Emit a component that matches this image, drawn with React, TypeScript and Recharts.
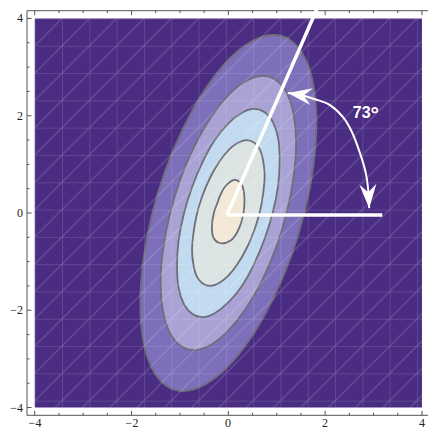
import React from "react";
import { ComposedChart, Scatter, XAxis, YAxis, ReferenceLine } from "recharts";

type Pt = { x: number; y: number };

// region covered by the density plot
const PLOT_REGION: [number, number][] = [[-4, -4], [4, -4], [4, 4], [-4, 4]];

// contour outlines, outer to inner
const CONTOUR_1: [number, number][] = [
  [1.82, 1.87], [1.76, 2.62], [1.58, 3.19], [1.29, 3.55], [0.91, 3.66], [0.47, 3.52],
  [0.0, 3.15], [-0.47, 2.56], [-0.91, 1.79], [-1.29, 0.91], [-1.58, -0.04], [-1.76, -0.99],
  [-1.82, -1.87], [-1.76, -2.62], [-1.58, -3.19], [-1.29, -3.55], [-0.91, -3.66], [-0.47, -3.52],
  [0.0, -3.15], [0.47, -2.56], [0.91, -1.79], [1.29, -0.91], [1.58, 0.04], [1.76, 0.99],
];
const CONTOUR_2: [number, number][] = [
  [1.40, 1.44], [1.35, 2.02], [1.21, 2.46], [0.99, 2.73], [0.70, 2.82], [0.36, 2.71],
  [0.0, 2.42], [-0.36, 1.97], [-0.70, 1.38], [-0.99, 0.70], [-1.21, -0.03], [-1.35, -0.76],
  [-1.40, -1.44], [-1.35, -2.02], [-1.21, -2.46], [-0.99, -2.73], [-0.70, -2.82], [-0.36, -2.71],
  [0.0, -2.42], [0.36, -1.97], [0.70, -1.38], [0.99, -0.70], [1.21, 0.03], [1.35, 0.76],
];
const CONTOUR_3: [number, number][] = [
  [1.06, 1.09], [1.03, 1.53], [0.92, 1.87], [0.75, 2.07], [0.53, 2.14], [0.28, 2.06],
  [0.0, 1.84], [-0.28, 1.50], [-0.53, 1.05], [-0.75, 0.53], [-0.92, -0.02], [-1.03, -0.58],
  [-1.06, -1.09], [-1.03, -1.53], [-0.92, -1.87], [-0.75, -2.07], [-0.53, -2.14], [-0.28, -2.06],
  [0.0, -1.84], [0.28, -1.50], [0.53, -1.05], [0.75, -0.53], [0.92, 0.02], [1.03, 0.58],
];
const CONTOUR_4: [number, number][] = [
  [0.75, 0.77], [0.72, 1.07], [0.65, 1.31], [0.53, 1.45], [0.37, 1.50], [0.19, 1.44],
  [0.0, 1.29], [-0.19, 1.05], [-0.37, 0.74], [-0.53, 0.37], [-0.65, -0.02], [-0.72, -0.41],
  [-0.75, -0.77], [-0.72, -1.07], [-0.65, -1.31], [-0.53, -1.45], [-0.37, -1.50], [-0.19, -1.44],
  [0.0, -1.29], [0.19, -1.05], [0.37, -0.74], [0.53, -0.37], [0.65, 0.02], [0.72, 0.41],
];
const CONTOUR_5: [number, number][] = [
  [0.12, 0.68], [0.25, 0.62], [0.32, 0.45], [0.33, 0.15], [0.28, -0.15], [0.18, -0.40],
  [0.04, -0.57], [-0.16, -0.62], [-0.30, -0.52], [-0.34, -0.30], [-0.30, 0.00], [-0.22, 0.22],
  [-0.17, 0.36], [-0.06, 0.55],
];
const CONTOURS = [CONTOUR_1, CONTOUR_2, CONTOUR_3, CONTOUR_4, CONTOUR_5];
const BAND_COLORS = ["#7d6fb9", "#a9a2d5", "#c2daf0", "#dce3e3", "#f2e8d5"];

// annotation
const AXIS_LINE: [number, number][] = [[-0.03, -0.04], [1.91, 4.38]];
const BASE_LINE: [number, number][] = [[-0.03, -0.04], [3.18, -0.04]];
const ANGLE_ARC: [number, number][] = [
  [1.23, 2.47], [1.48, 2.43], [1.79, 2.34], [2.10, 2.22], [2.37, 1.97], [2.56, 1.65],
  [2.72, 1.23], [2.84, 0.82], [2.89, 0.47], [2.91, 0.10],
];
const ANGLE_LABEL = [{ x: 2.57, y: 1.95, text: "73°" }];

const TICK_VALUES = [-4, -3.5, -3, -2.5, -2, -1.5, -1, -0.5, 0, 0.5, 1, 1.5, 2, 2.5, 3, 3.5, 4];
const MAJOR_TICKS = [-4, -2, 0, 2, 4];
const DOMAIN: [number, number] = [-4.16, 4.16];

const toPoints = (arr: [number, number][]) => arr.map(([x, y]) => ({ x, y }));
const fmt = (v: number) => (v < 0 ? `\u2212${Math.abs(v)}` : `${v}`);
const FRAME = "#555";
const LABEL_FONT = { fontFamily: "Liberation Serif", fontSize: 12, fill: "#222" };

// catmull-rom through the screen points handed over by the Scatter
function splinePath(pts: Pt[], closed: boolean) {
  const n = pts.length;
  const at = (i: number) => (closed ? pts[(i + n) % n] : pts[Math.max(0, Math.min(n - 1, i))]);
  let d = `M${pts[0].x},${pts[0].y}`;
  const segs = closed ? n : n - 1;
  for (let i = 0; i < segs; i++) {
    const p0 = at(i - 1), p1 = at(i), p2 = at(i + 1), p3 = at(i + 2);
    d += ` C${p1.x + (p2.x - p0.x) / 6},${p1.y + (p2.y - p0.y) / 6} ${p2.x - (p3.x - p1.x) / 6},${p2.y - (p3.y - p1.y) / 6} ${p2.x},${p2.y}`;
  }
  return closed ? d + " Z" : d;
}
const polyPath = (pts: Pt[]) => pts.map((p, i) => `${i ? "L" : "M"}${p.x},${p.y}`).join(" ") + " Z";

const noSymbol = () => <g />;

// eslint-disable-next-line @typescript-eslint/no-explicit-any
const BottomTick = ({ x, y, payload }: any) => {
  const major = MAJOR_TICKS.includes(payload.value);
  return (
    <g>
      <line x1={x} x2={x} y1={y} y2={y - (major ? 4.5 : 2.5)} stroke={FRAME} />
      {major && (
        <text x={Math.round(x)} y={Math.round(y) + 12} textAnchor="middle" {...LABEL_FONT}>
          {fmt(payload.value)}
        </text>
      )}
    </g>
  );
};

// eslint-disable-next-line @typescript-eslint/no-explicit-any
const TopTick = ({ x, y, payload }: any) => {
  const major = MAJOR_TICKS.includes(payload.value);
  return <line x1={x} x2={x} y1={y} y2={y + (major ? 4.5 : 2.5)} stroke={FRAME} />;
};

// eslint-disable-next-line @typescript-eslint/no-explicit-any
const LeftTick = ({ x, y, payload }: any) => {
  const major = MAJOR_TICKS.includes(payload.value);
  return (
    <g>
      <line x1={x} x2={x + (major ? 4.5 : 2.5)} y1={y} y2={y} stroke={FRAME} />
      {major && (
        <text x={Math.round(x) - 4} y={Math.round(y) + 4} textAnchor="end" {...LABEL_FONT}>
          {fmt(payload.value)}
        </text>
      )}
    </g>
  );
};

export default function App() {
  return (
    <div style={{ position: "absolute", left: 0, top: 0, width: 428, height: 427, overflow: "hidden", background: "#fff" }}>
      <ComposedChart width={440} height={440} margin={{ top: 9.7, right: 10.3, bottom: 23.7, left: 26 }}>
        <XAxis
          type="number" dataKey="x" domain={DOMAIN} allowDataOverflow ticks={TICK_VALUES} interval={0}
          height={1} tickSize={0} tickMargin={0} tickLine={false} axisLine={{ stroke: FRAME }}
          tick={(p: any) => <BottomTick {...p} />}
        />
        <XAxis
          xAxisId="top" orientation="top" type="number" dataKey="x" domain={DOMAIN} allowDataOverflow
          ticks={TICK_VALUES} interval={0} height={1} tickSize={0} tickMargin={0} tickLine={false}
          axisLine={{ stroke: FRAME }} tick={(p: any) => <TopTick {...p} />}
        />
        <YAxis
          type="number" dataKey="y" domain={DOMAIN} allowDataOverflow ticks={TICK_VALUES} interval={0}
          width={1} tickSize={0} tickMargin={0} tickLine={false} axisLine={{ stroke: FRAME }}
          tick={(p: any) => <LeftTick {...p} />}
        />

        {/* dark background */}
        <Scatter
          data={toPoints(PLOT_REGION)} isAnimationActive={false} shape={noSymbol}
          line={(p: any) => <path d={polyPath(p.points)} fill="#4b2c83" stroke="none" />}
        />

        {CONTOURS.map((c, i) => (
          <Scatter
            key={`contour-${i}`} data={toPoints(c)} isAnimationActive={false} shape={noSymbol}
            line={(p: any) => (
              <path d={splinePath(p.points, true)} fill={BAND_COLORS[i]} stroke="#6e6e78" strokeWidth={1.8} />
            )}
          />
        ))}

        {/* faint triangulation mesh */}
        <Scatter
          data={toPoints(PLOT_REGION)} isAnimationActive={false} shape={noSymbol}
          line={(p: any) => {
            const x0 = Math.min(...p.points.map((q: Pt) => q.x));
            const y0 = Math.min(...p.points.map((q: Pt) => q.y));
            const s = 27.3;
            return (
              <g>
                <defs>
                  <pattern id="mesh" patternUnits="userSpaceOnUse" x={x0} y={y0} width={s} height={s}>
                    <path d={`M0,${s} L${s},0`} stroke="#fff" strokeOpacity={0.2} strokeWidth={1} />
                    <path d={`M0.5,0 V${s} M0,0.5 H${s}`} stroke="#fff" strokeOpacity={0.12} strokeWidth={1} />
                  </pattern>
                </defs>
                <path d={polyPath(p.points)} fill="url(#mesh)" stroke="none" />
              </g>
            );
          }}
        />

        {/* angle arc with arrowheads */}
        <Scatter
          data={toPoints(ANGLE_ARC)} isAnimationActive={false} shape={noSymbol}
          line={(p: any) => (
            <g>
              <defs>
                <marker id="ahEnd" markerUnits="userSpaceOnUse" viewBox="-26 -10 28 20" refX={0} refY={0}
                  markerWidth={28} markerHeight={20} orient="auto">
                  <path d="M0,0 L-24,-8.5 L-16,0 L-24,8.5 Z" fill="#fff" />
                </marker>
                <marker id="ahStart" markerUnits="userSpaceOnUse" viewBox="-26 -10 28 20" refX={0} refY={0}
                  markerWidth={28} markerHeight={20} orient="auto-start-reverse">
                  <path d="M0,0 L-24,-8.5 L-16,0 L-24,8.5 Z" fill="#fff" />
                </marker>
              </defs>
              <path d={splinePath(p.points, false)} fill="none" stroke="#fff" strokeWidth={2}
                markerStart="url(#ahStart)" markerEnd="url(#ahEnd)" />
            </g>
          )}
        />

        <Scatter
          data={ANGLE_LABEL} isAnimationActive={false}
          shape={(p: any) => (
            <text x={p.cx} y={p.cy} textAnchor="start" fill="#fff" fontFamily="Liberation Sans"
              fontWeight={700} fontSize={16}>
              {p.payload.text.slice(0, -1)}
              <tspan fontSize={21} dy={3}>{p.payload.text.slice(-1)}</tspan>
            </text>
          )}
        />

        <ReferenceLine
          segment={toPoints(AXIS_LINE)} ifOverflow="visible" stroke="#fff" strokeWidth={3.5}
          zIndex={1000}
        />
        <ReferenceLine
          segment={toPoints(BASE_LINE)} ifOverflow="visible" stroke="#fff" strokeWidth={3.5}
          zIndex={1000}
        />
      </ComposedChart>
    </div>
  );
}
